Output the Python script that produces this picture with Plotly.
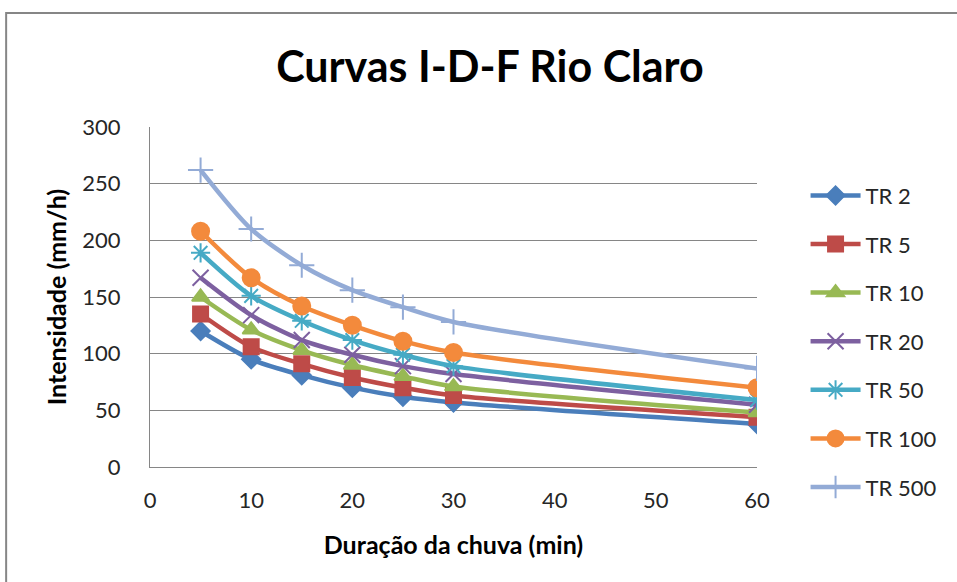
import plotly.graph_objects as go

duracao = [5, 10, 15, 20, 25, 30, 60]
series_names = ["TR 2", "TR 5", "TR 10", "TR 20", "TR 50", "TR 100", "TR 500"]
tr2 = [120, 95, 81, 70, 62, 57, 38]
tr5 = [135, 106, 91, 79, 70, 63, 44]
tr10 = [150, 121, 103, 90, 80, 71, 48]
tr20 = [167, 134, 112, 99, 89, 82, 55]
tr50 = [189, 151, 129, 112, 99, 89, 59]
tr100 = [208, 167, 142, 125, 111, 101, 70]
tr500 = [262, 210, 178, 156, 141, 128, 87]
y_ticks = [0, 50, 100, 150, 200, 250, 300]
x_ticks = [0, 10, 20, 30, 40, 50, 60]

values = [tr2, tr5, tr10, tr20, tr50, tr100, tr500]
colors = ["#4A7EBB", "#BE4B48", "#98B954", "#7D60A0", "#46AAC5", "#F38A3C", "#93ABD6"]
symbols = ["diamond", "square", "triangle-up", "x-thin-open", "asterisk-open", "circle", "cross-thin-open"]
sizes = [14, 15, 15, 16, 16, 17, 18]

font = "Lato, 'Open Sans', sans-serif"

fig = go.Figure()
for i, (name, vals) in enumerate(zip(series_names, values)):
    fig.add_trace(go.Scatter(
        x=duracao, y=vals, name=name, mode="lines+markers",
        line=dict(color=colors[i], width=4.5, shape="spline", smoothing=0.8),
        marker=dict(symbol=symbols[i], size=sizes[i], color=colors[i],
                    line=dict(color=colors[i], width=2)),
        legendgroup=name,
    ))

fig.update_layout(
    width=957, height=582,
    margin=dict(l=150, r=200, t=127, b=115),
    paper_bgcolor="white", plot_bgcolor="white",
    font=dict(family=font, color="#262626", size=22),
    title=dict(text="<b>Curvas I-D-F Rio Claro</b>", x=0.512, xanchor="center",
               y=0.885, yanchor="middle", font=dict(size=43, family=font, color="#000000")),
    xaxis=dict(range=[0, 60], tickvals=x_ticks, showgrid=False, showline=True,
               linecolor="#868686", linewidth=1, ticks="", ticklabelstandoff=14,
               zeroline=False, tickfont=dict(size=22),
               title=dict(text="<b>Duração da chuva (min)</b>",
                          font=dict(size=25, color="#000000"), standoff=24)),
    yaxis=dict(range=[0, 300], tickvals=y_ticks, showgrid=True, gridcolor="#868686",
               gridwidth=1, showline=True, linecolor="#868686", linewidth=1,
               ticks="", ticklabelstandoff=24, zeroline=False, tickfont=dict(size=22),
               title=dict(text="<b>Intensidade (mm/h)</b>",
                          font=dict(size=25, color="#000000"), standoff=8)),
    legend=dict(x=1.08, xanchor="left", y=0.86, yanchor="top",
                font=dict(size=22, color="#262626"), tracegroupgap=17, itemwidth=50,
                bgcolor="rgba(0,0,0,0)"),
    showlegend=True,
)

fig.add_shape(type="rect", xref="paper", yref="paper",
              x0=-0.237, x1=1.5, y0=-0.6, y1=1.335,
              line=dict(color="#868686", width=2), fillcolor="rgba(0,0,0,0)", layer="below")

fig.write_html("out.html")
